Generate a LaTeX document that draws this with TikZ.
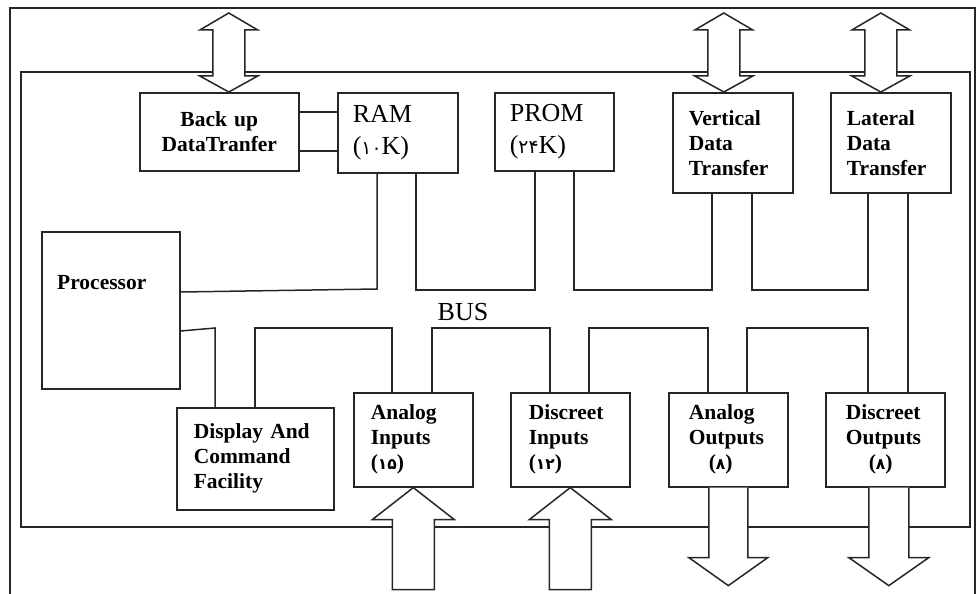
\documentclass[tikz,border=0pt]{standalone}
\usepackage{fontspec}
\setmainfont{Liberation Serif}
\newfontfamily\fa[Scale=0.72]{DejaVu Sans}
\usetikzlibrary{calc}
\begin{document}
\begin{tikzpicture}[x=1pt,y=-1pt,
  bx/.style={draw=black!85, line width=1.6pt, inner ysep=0pt, anchor=north west, align=left,
             font=\bfseries\fontsize{21.5}{25}\selectfont},
  reg/.style={font=\fontsize{26}{32}\selectfont},
  wire/.style={draw=black!85, line width=1.5pt},
  blk/.style={draw=black!85, line width=1.5pt, fill=white, line join=miter}]
\useasboundingbox (0,0) rectangle (977,594);
\begin{scope}
  \clip (0,0) rectangle (977,594);
  \draw[line width=1.5pt, black!85] (10,8) rectangle (975,640);
\end{scope}
\draw[line width=1.5pt, black!85] (21,72) rectangle (970,527);

% boxes
\node[bx, align=center, inner xsep=0pt, text width=159pt, minimum height=78pt] (bk) at (139,92) {Back up\\DataTranfer\\[4pt]};
\node[bx, reg, inner xsep=15pt, text width=90pt, minimum height=80pt] (ram) at (337,92) {RAM\\({\fa ۱۰}K)};
\node[bx, reg, inner xsep=15pt, text width=89pt, minimum height=78pt] (prom) at (494,92) {PROM\\({\fa ۲۴}K)};
\node[bx, inner xsep=16pt, text width=88pt, minimum height=100pt] (vdt) at (672,92) {Vertical\\Data\\Transfer};
\node[bx, inner xsep=16pt, text width=88pt, minimum height=100pt] (ldt) at (830,92) {Lateral\\Data\\Transfer};
\node[bx, inner xsep=0pt, text width=138pt, minimum height=157pt] (proc) at (41,231) {};
\node[font=\bfseries\fontsize{21.5}{25}\selectfont, anchor=base west, inner sep=0pt] (proct) at (57,289) {Processor};
\node[bx, inner xsep=17pt, text width=123pt, minimum height=102pt] (disp) at (176,407) {Display And\\Command\\Facility};
\node[bx, inner xsep=17pt, text width=85pt, minimum height=94pt] (ain) at (353,392) {Analog\\Inputs\\({\fa ۱۵})};
\node[bx, inner xsep=18pt, text width=83pt, minimum height=94pt] (din) at (510,392) {Discreet\\Inputs\\({\fa ۱۲})};
\node[bx, inner xsep=20pt, text width=79pt, minimum height=94pt] (aout) at (668,392) {Analog\\Outputs\\\hspace*{20pt}({\fa ۸})};
\node[bx, inner xsep=20pt, text width=79pt, minimum height=94pt] (dout) at (825,392) {Discreet\\Outputs\\\hspace*{23pt}({\fa ۸})};
\node[reg, font=\fontsize{26}{26}\selectfont, anchor=base, inner sep=0pt] (bus) at (463,320) {BUS};

% bus coordinates
\coordinate (pu) at (0,292);
\coordinate (pl) at (0,331);
\coordinate (u1) at (377,289);
\coordinate (u2) at (416,290);
\coordinate (u3) at (535,290);
\coordinate (u4) at (574,290);
\coordinate (u5) at (712,290);
\coordinate (u6) at (752,290);
\coordinate (u7) at (868,290);
\coordinate (u8) at (908,290);
\coordinate (l1) at (215,328);
\coordinate (l2) at (255,328);
\coordinate (l3) at (392,328);
\coordinate (l4) at (432,328);
\coordinate (l5) at (550,328);
\coordinate (l6) at (589,328);
\coordinate (l7) at (708,328);
\coordinate (l8) at (747,328);
\coordinate (l9) at (868,328);
\coordinate (c1) at (0,112);
\coordinate (c2) at (0,151);

% back up - RAM
\draw[wire] (bk.east |- c1) -- (ram.west |- c1);
\draw[wire] (bk.east |- c2) -- (ram.west |- c2);

% upper bus
\draw[wire] (proc.east |- pu) -- (u1) -- (u1 |- ram.south);
\draw[wire] (u2 |- ram.south) -- (u2) -- (u3) -- (u3 |- prom.south);
\draw[wire] (u4 |- prom.south) -- (u4) -- (u5) -- (u5 |- vdt.south);
\draw[wire] (u6 |- vdt.south) -- (u6) -- (u7) -- (u7 |- ldt.south);
\draw[wire] (u8 |- ldt.south) -- (u8 |- dout.north);

% lower bus
\draw[wire] (proc.east |- pl) -- (l1) -- (l1 |- disp.north);
\draw[wire] (l2 |- disp.north) -- (l2) -- (l3) -- (l3 |- ain.north);
\draw[wire] (l4 |- ain.north) -- (l4) -- (l5) -- (l5 |- din.north);
\draw[wire] (l6 |- din.north) -- (l6) -- (l7) -- (l7 |- aout.north);
\draw[wire] (l8 |- aout.north) -- (l8) -- (l9) -- (l9 |- dout.north);

% top double arrows
\draw[blk] ($(bk.north)+(9.5,0)$) -- ++(29,-16) -- ++(-13,0) -- ++(0,-46) -- ++(13,0) -- ++(-29,-17) -- ++(-29,17) -- ++(13,0) -- ++(0,46) -- ++(-13,0) -- cycle;
\draw[blk] ($(vdt.north)+(-9,0)$) -- ++(29,-16) -- ++(-13,0) -- ++(0,-46) -- ++(13,0) -- ++(-29,-17) -- ++(-29,17) -- ++(13,0) -- ++(0,46) -- ++(-13,0) -- cycle;
\draw[blk] ($(ldt.north)+(-10,0)$) -- ++(29,-16) -- ++(-13,0) -- ++(0,-46) -- ++(13,0) -- ++(-29,-17) -- ++(-29,17) -- ++(13,0) -- ++(0,46) -- ++(-13,0) -- cycle;

% bottom input arrows
\draw[blk] (ain.south) -- ++(41,32) -- ++(-20,0) -- ++(0,70) -- ++(-42,0) -- ++(0,-70) -- ++(-20,0) -- cycle;
\draw[blk] (din.south) -- ++(41,32) -- ++(-20,0) -- ++(0,70) -- ++(-42,0) -- ++(0,-70) -- ++(-20,0) -- cycle;

% bottom output arrows
\draw[blk] ($(aout.south)+(-19.5,0)$) -- ++(0,70) -- ++(-20,0) -- ++(39.5,28) -- ++(39.5,-28) -- ++(-20,0) -- ++(0,-70);
\draw[blk] ($(dout.south)+(-16.5,0)$) -- ++(0,70) -- ++(-20,0) -- ++(40,28) -- ++(40,-28) -- ++(-20,0) -- ++(0,-70);
\end{tikzpicture}
\end{document}
